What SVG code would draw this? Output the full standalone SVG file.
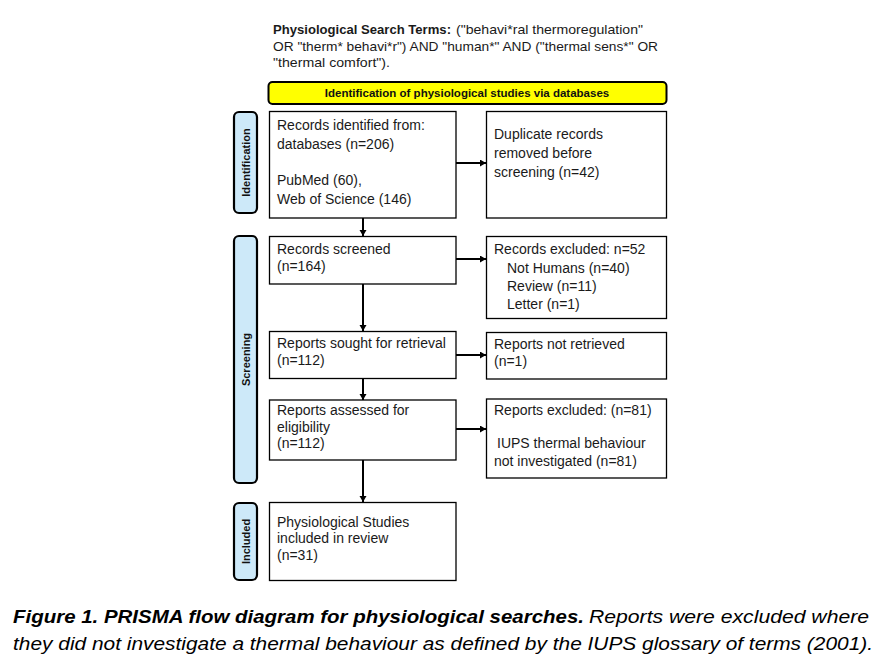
<svg xmlns="http://www.w3.org/2000/svg" width="891" height="664" viewBox="0 0 891 664">
<defs>
<marker id="ah" markerUnits="userSpaceOnUse" markerWidth="8" markerHeight="8" refX="6" refY="3.5" orient="auto">
<path d="M0,0 L6,3.5 L0,7 Z" fill="#000"/>
</marker>
</defs>
<style>
.box{fill:#fff;stroke:#000;stroke-width:1.3}
.side{fill:#cde9f9;stroke:#000;stroke-width:2.2}
.t{font-family:"Liberation Sans",Arial,sans-serif;font-size:14px;fill:#1a1a1a}
.top{font-family:"Liberation Sans",Arial,sans-serif;font-size:13.5px;fill:#1a1a1a}
.st{font-family:"Liberation Sans",Arial,sans-serif;font-size:11px;font-weight:bold;fill:#111}
.hd{font-family:"Liberation Sans",Arial,sans-serif;font-size:11.5px;font-weight:bold;fill:#111}
.cap{font-family:"Liberation Sans",Arial,sans-serif;font-size:19px;font-style:italic;fill:#000}
.conn{stroke:#000;stroke-width:2;fill:none}
</style>
<rect width="891" height="664" fill="#fff"/>
<g id="search-terms">
<text class="top" x="273" y="34" font-weight="bold" textLength="178" lengthAdjust="spacingAndGlyphs">Physiological Search Terms:</text>
<text class="top" x="456" y="34" textLength="187" lengthAdjust="spacingAndGlyphs">("behavi*ral thermoregulation"</text>
<text class="top" x="273" y="50.5" textLength="385" lengthAdjust="spacingAndGlyphs">OR "therm* behavi*r") AND "human*" AND ("thermal sens*" OR</text>
<text class="top" x="273" y="67" textLength="117" lengthAdjust="spacingAndGlyphs">"thermal comfort").</text>
</g>
<g id="header">
<rect x="268.5" y="82" width="398" height="22" rx="4" fill="#ffff00" stroke="#000" stroke-width="2"/>
<text class="hd" x="467" y="97" text-anchor="middle">Identification of physiological studies via databases</text>
</g>
<g id="label-identification">
<rect class="side" x="234" y="112" width="23" height="101" rx="5"/>
<text class="st" transform="translate(249.5,162.5) rotate(-90)" text-anchor="middle">Identification</text>
</g>
<g id="label-screening">
<rect class="side" x="234" y="236" width="23" height="247" rx="5"/>
<text class="st" transform="translate(249.5,359.5) rotate(-90)" text-anchor="middle">Screening</text>
</g>
<g id="label-included">
<rect class="side" x="234" y="503" width="23" height="77" rx="5"/>
<text class="st" transform="translate(249.5,541.5) rotate(-90)" text-anchor="middle">Included</text>
</g>
<g id="records-identified">
<rect class="box" x="269.5" y="111.5" width="186.5" height="106.5"/>
<text class="t" x="277" y="130">Records identified from:</text>
<text class="t" x="277" y="149">databases (n=206)</text>
<text class="t" x="277" y="185">PubMed (60),</text>
<text class="t" x="277" y="204">Web of Science (146)</text>
</g>
<g id="duplicates">
<rect class="box" x="486.5" y="111.5" width="180" height="106.5"/>
<text class="t" x="494" y="139">Duplicate records</text>
<text class="t" x="494" y="158">removed before</text>
<text class="t" x="494" y="177">screening (n=42)</text>
</g>
<g id="records-screened">
<rect class="box" x="269.5" y="236.5" width="186.5" height="47.5"/>
<text class="t" x="277" y="254">Records screened</text>
<text class="t" x="277" y="271">(n=164)</text>
</g>
<g id="records-excluded">
<rect class="box" x="486.5" y="236.5" width="180" height="82"/>
<text class="t" x="494" y="254">Records excluded: n=52</text>
<text class="t" x="507" y="273">Not Humans (n=40)</text>
<text class="t" x="507" y="291">Review (n=11)</text>
<text class="t" x="507" y="309">Letter (n=1)</text>
</g>
<g id="reports-sought">
<rect class="box" x="269.5" y="331.5" width="186.5" height="47"/>
<text class="t" x="277" y="348">Reports sought for retrieval</text>
<text class="t" x="277" y="365">(n=112)</text>
</g>
<g id="not-retrieved">
<rect class="box" x="486.5" y="332.5" width="180" height="46.5"/>
<text class="t" x="494" y="349">Reports not retrieved</text>
<text class="t" x="494" y="366">(n=1)</text>
</g>
<g id="reports-assessed">
<rect class="box" x="269.5" y="400" width="186.5" height="60"/>
<text class="t" x="277" y="415">Reports assessed for</text>
<text class="t" x="277" y="431.5">eligibility</text>
<text class="t" x="277" y="448">(n=112)</text>
</g>
<g id="reports-excluded">
<rect class="box" x="486.5" y="399" width="180" height="79"/>
<text class="t" x="494" y="415">Reports excluded: (n=81)</text>
<text class="t" x="497" y="448">IUPS thermal behaviour</text>
<text class="t" x="494" y="466">not investigated (n=81)</text>
</g>
<g id="studies-included">
<rect class="box" x="269.5" y="502.5" width="186.5" height="78"/>
<text class="t" x="277" y="526.5">Physiological Studies</text>
<text class="t" x="277" y="543">included in review</text>
<text class="t" x="277" y="559.5">(n=31)</text>
</g>
<g id="connectors">
<line class="conn" x1="363" y1="218" x2="363" y2="236" marker-end="url(#ah)"/>
<line class="conn" x1="363" y1="284" x2="363" y2="331" marker-end="url(#ah)"/>
<line class="conn" x1="363" y1="379" x2="363" y2="400" marker-end="url(#ah)"/>
<line class="conn" x1="363" y1="460" x2="363" y2="502" marker-end="url(#ah)"/>
<line class="conn" x1="456" y1="163" x2="486" y2="163" marker-end="url(#ah)"/>
<line class="conn" x1="456" y1="259" x2="486" y2="259" marker-end="url(#ah)"/>
<line class="conn" x1="456" y1="355" x2="486" y2="355" marker-end="url(#ah)"/>
<line class="conn" x1="456" y1="429" x2="486" y2="429" marker-end="url(#ah)"/>
</g>
<g id="caption">
<text class="cap" x="13" y="623" font-weight="bold" textLength="571" lengthAdjust="spacingAndGlyphs">Figure 1. PRISMA flow diagram for physiological searches.</text>
<text class="cap" x="589" y="623" textLength="280" lengthAdjust="spacingAndGlyphs">Reports were excluded where</text>
<text class="cap" x="13" y="650" textLength="860" lengthAdjust="spacingAndGlyphs">they did not investigate a thermal behaviour as defined by the IUPS glossary of terms (2001).</text>
</g>
</svg>
